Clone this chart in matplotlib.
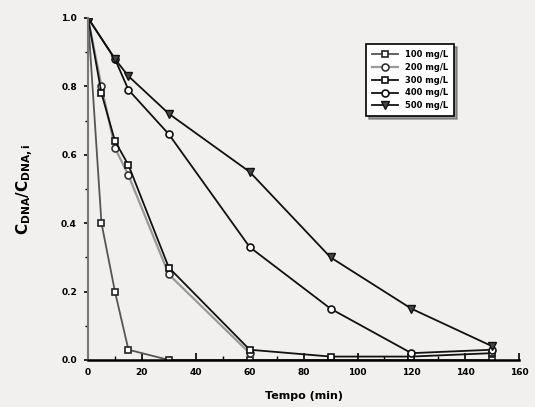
import numpy as np
import matplotlib.pyplot as plt

t_100 = [0, 5, 10, 15, 30, 60, 90, 120, 150]
c_100 = [1.0, 0.40, 0.20, 0.03, 0.0, 0.0, 0.0, 0.0, 0.0]
t_200 = [0, 5, 10, 15, 30, 60]
c_200 = [1.0, 0.80, 0.62, 0.54, 0.25, 0.02]
t_300 = [0, 5, 10, 15, 30, 60, 90, 120, 150]
c_300 = [1.0, 0.78, 0.64, 0.57, 0.27, 0.03, 0.01, 0.01, 0.02]
t_400 = [0, 10, 15, 30, 60, 90, 120, 150]
c_400 = [1.0, 0.88, 0.79, 0.66, 0.33, 0.15, 0.02, 0.03]
t_500 = [0, 10, 15, 30, 60, 90, 120, 150]
c_500 = [1.0, 0.88, 0.83, 0.72, 0.55, 0.30, 0.15, 0.04]

labels = ['100 mg/L', '200 mg/L', '300 mg/L', '400 mg/L', '500 mg/L']

bg = '#f1f0ee'
fig = plt.figure(figsize=(5.35, 4.07), dpi=100, facecolor=bg)
ax = fig.add_axes([0.1645, 0.1155, 0.806, 0.8403], facecolor=bg)

ax.plot(t_100, c_100, color='#555555', lw=1.3, marker='s', ms=5, mfc='white', mec='#222222', mew=1.2, label=labels[0])
ax.plot(t_200, c_200, color='#999999', lw=1.6, marker='o', ms=5, mfc='white', mec='#333333', mew=1.2, label=labels[1])
ax.plot(t_300, c_300, color='#111111', lw=1.3, marker='s', ms=5, mfc='white', mec='#111111', mew=1.2, label=labels[2])
ax.plot(t_400, c_400, color='#111111', lw=1.3, marker='o', ms=5, mfc='white', mec='#111111', mew=1.2, label=labels[3])
ax.plot(t_500, c_500, color='#111111', lw=1.3, marker='v', ms=6, mfc='#444444', mec='#111111', mew=1.0, label=labels[4])

ax.set_xlim(0, 160)
ax.set_ylim(0, 1.0)
ax.set_xticks(np.arange(0, 161, 20))
ax.set_xticks(np.arange(0, 161, 10), minor=True)
ax.set_yticks(np.arange(0, 1.01, 0.2))
ax.set_yticks(np.arange(0, 1.01, 0.1), minor=True)
ax.set_yticklabels(['0.0', '0.2', '0.4', '0.6', '0.8', '1.0'])
ax.tick_params(axis='x', which='major', direction='in', length=5, labelsize=6.5, width=1.2, pad=6)
ax.tick_params(axis='x', which='minor', direction='in', length=3, width=1)
ax.tick_params(axis='y', which='major', direction='out', length=3, labelsize=6.5, width=1.2, pad=5)
ax.tick_params(axis='y', which='minor', direction='out', length=2, width=1)
for lab in ax.get_xticklabels() + ax.get_yticklabels():
    lab.set_fontweight('bold')

ax.spines['top'].set_visible(False)
ax.spines['right'].set_visible(False)
ax.spines['left'].set_color('#777777')
ax.spines['left'].set_linewidth(1.5)
ax.spines['bottom'].set_linewidth(1.8)

ax.set_xlabel('Tempo (min)', fontsize=8, fontweight='bold', labelpad=10)
ax.set_ylabel(r'$\mathbf{C_{DNA}/C_{DNA,i}}$', fontsize=11, labelpad=18)

leg = ax.legend(loc='upper left', bbox_to_anchor=(0.635, 0.935), frameon=True,
                fancybox=False, shadow=True, handlelength=3.2, borderpad=0.7, labelspacing=0.45,
                prop={'weight': 'bold', 'size': 6})
leg.get_frame().set_edgecolor('black')
leg.get_frame().set_linewidth(1.2)

fig.savefig('out.png', dpi=100, facecolor=bg)
